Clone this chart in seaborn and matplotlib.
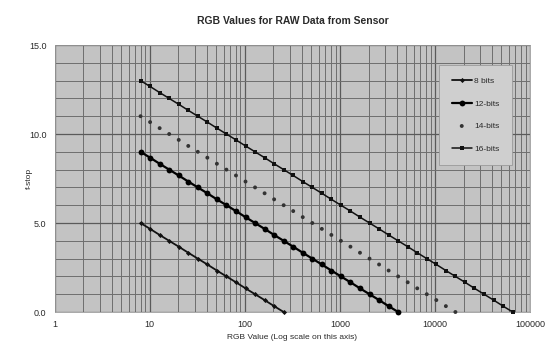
import matplotlib
matplotlib.use("Agg")
import matplotlib.pyplot as plt
import matplotlib.ticker as mticker
import seaborn as sns
import numpy as np

# RGB values at 1/3-stop steps (shared by all series)
rgb_values = [8, 10.08, 12.7, 16, 20.16, 25.4, 32, 40.32, 50.8, 64, 80.63, 101.6,
              128, 161.3, 203.2, 256, 322.5, 406.4, 512, 645.1, 812.7, 1024, 1290,
              1625, 2048, 2580, 3251, 4096, 5161, 6502, 8192, 10321, 13004, 16384,
              20643, 26008, 32768, 41285, 52016, 65536]
# f-stop ladder (top of the 16-bit series down to 0)
fstops = [13.0, 12.67, 12.33, 12.0, 11.67, 11.33, 11.0, 10.67, 10.33, 10.0,
          9.67, 9.33, 9.0, 8.67, 8.33, 8.0, 7.67, 7.33, 7.0, 6.67, 6.33, 6.0,
          5.67, 5.33, 5.0, 4.67, 4.33, 4.0, 3.67, 3.33, 3.0, 2.67, 2.33, 2.0,
          1.67, 1.33, 1.0, 0.67, 0.33, 0.0]
series_names = ["8 bits", "12-bits", "14-bits", "16-bits"]
series_points = [16, 28, 34, 40]

title = "RGB Values for RAW Data from Sensor"
xlabel = "RGB Value (Log scale on this axis)"
ylabel = "f-stop"
xtick_vals = [1, 10, 100, 1000, 10000, 100000]
xtick_labels = ["1", "10", "100", "1000", "10000", "100000"]
ytick_vals = [0, 5, 10, 15]
ytick_labels = ["0.0", "5.0", "10.0", "15.0"]

sns.set_style("white")
plt.rcParams["font.family"] = ["Liberation Sans", "DejaVu Sans"]

fig = plt.figure(figsize=(5.58, 3.49), dpi=100)
ax = fig.add_axes([0.098, 0.106, 0.852, 0.765])
ax.set_facecolor("#c3c3c3")

styles = [
    dict(marker="D", markersize=2.6, lw=1.3, color="#111111"),
    dict(marker="o", markersize=4.2, lw=1.6, color="#000000"),
    dict(marker="o", markersize=2.8, lw=0, color="#333333"),
    dict(marker="s", markersize=2.6, lw=1.1, color="#111111"),
]

for name, n, st in zip(series_names, series_points, styles):
    xs = rgb_values[:n]
    ys = fstops[-n:]
    if st["lw"] == 0:
        sns.scatterplot(x=xs, y=ys, ax=ax, marker=st["marker"], s=st["markersize"] ** 2,
                        color=st["color"], edgecolor="none", label=name, clip_on=False,
                        zorder=3)
    else:
        sns.lineplot(x=xs, y=ys, ax=ax, marker=st["marker"], markersize=st["markersize"],
                     linewidth=st["lw"], color=st["color"], markeredgewidth=0,
                     label=name, clip_on=False, zorder=3, sort=False)

ax.set_xscale("log")
ax.set_xlim(1, 100000)
ax.set_ylim(0, 15)
ax.set_xticks(xtick_vals)
ax.set_xticklabels(xtick_labels)
ax.xaxis.set_minor_locator(mticker.LogLocator(base=10, subs=np.arange(2, 10)))
ax.xaxis.set_minor_formatter(mticker.NullFormatter())
ax.set_yticks(ytick_vals)
ax.set_yticklabels(ytick_labels)
ax.yaxis.set_minor_locator(mticker.MultipleLocator(1))

ax.grid(which="major", axis="both", color="#5a5a5a", linewidth=0.9)
ax.grid(which="minor", axis="both", color="#6e6e6e", linewidth=0.7)
ax.set_axisbelow(True)

ax.tick_params(axis="both", which="major", labelsize=6.5, length=0, pad=6,
               labelcolor="#2a2a2a")
ax.tick_params(axis="both", which="minor", length=0)
for sp in ax.spines.values():
    sp.set_color("#9a9a9a")
    sp.set_linewidth(0.6)

ax.set_title(title, fontsize=7.5, fontweight="bold", color="#2a2a2a", pad=15)
ax.set_xlabel(xlabel, fontsize=6, color="#2a2a2a", labelpad=3)
ax.set_ylabel(ylabel, fontsize=6, color="#2a2a2a")
ax.yaxis.set_label_coords(-0.045, 0.5)

leg = ax.legend(loc="upper right", bbox_to_anchor=(512 / 558, 1 - 65 / 349),
                bbox_transform=fig.transFigure, borderaxespad=0, fontsize=6,
                frameon=True, fancybox=False, labelspacing=1.75, handlelength=2.4,
                borderpad=1.5, handletextpad=0.3)
leg.get_frame().set_facecolor("#cfcfcf")
leg.get_frame().set_edgecolor("#9a9a9a")
leg.get_frame().set_linewidth(0.6)
leg.get_frame().set_alpha(1)
for t in leg.get_texts():
    t.set_color("#2a2a2a")

fig.savefig("out.png", dpi=100)
